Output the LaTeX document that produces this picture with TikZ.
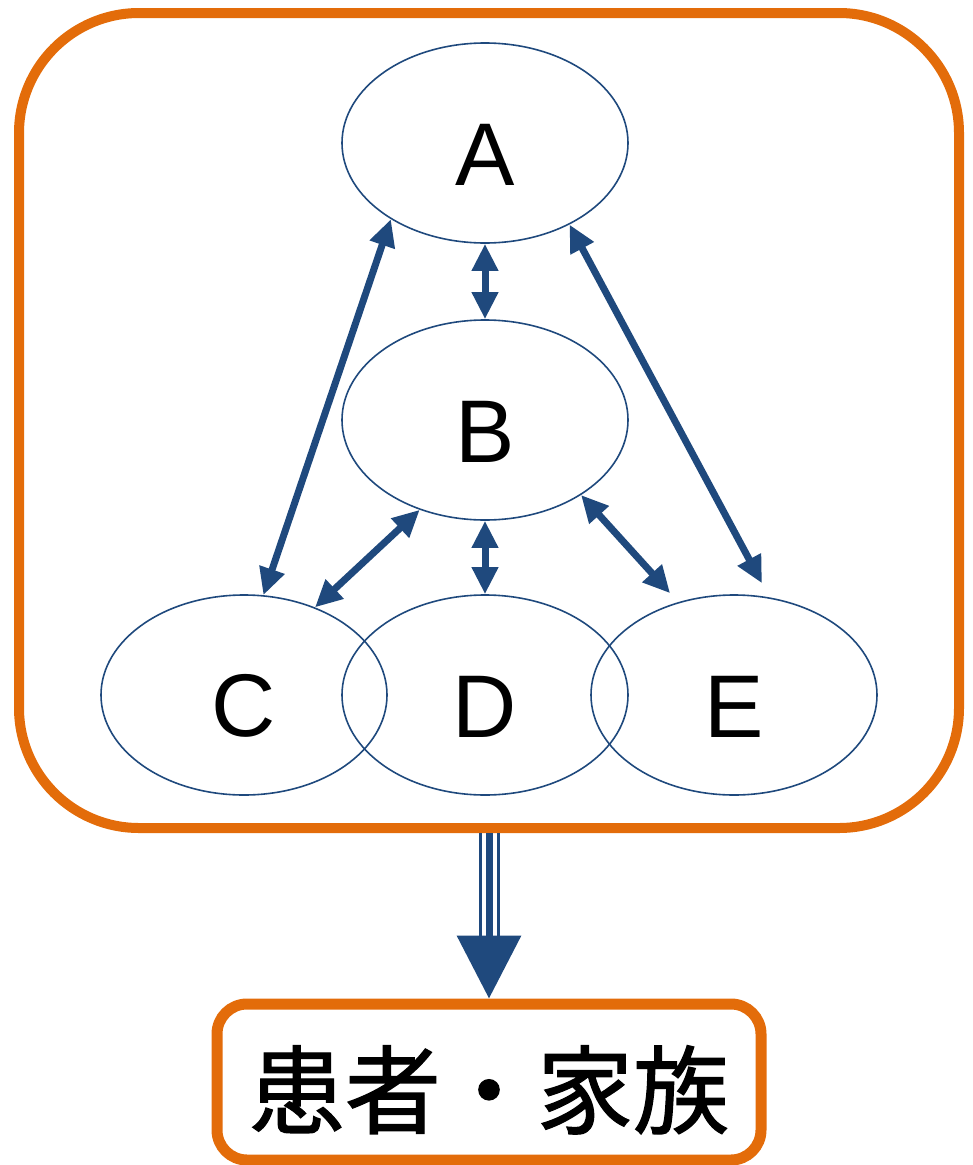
\documentclass[tikz,border=0pt]{standalone}
\usepackage{fontspec}
\setmainfont{Liberation Sans}
\newfontfamily\cjk[FakeBold=1.3]{Noto Sans CJK JP}
\usetikzlibrary{arrows.meta,shapes.geometric}
\definecolor{frameorange}{RGB}{227,108,10}
\definecolor{linkblue}{RGB}{31,73,125}

\begin{document}
\begin{tikzpicture}[x=1pt,y=-1pt,
  member/.style={ellipse,draw=linkblue,line width=1.6pt,minimum width=286pt,minimum height=200pt,
    inner sep=0pt,text height=84pt,font=\fontsize{89}{100}\selectfont},
  link/.style={draw=linkblue,line width=7pt,
    {Triangle[length=27pt,width=25pt]}-{Triangle[length=27pt,width=25pt]}}]
\path[use as bounding box] (0,0) rectangle (973,1165);

% care team frame
\node[draw=frameorange,line width=10pt,rounded corners=120pt,
  minimum width=940pt,minimum height=815pt] (team) at (489,420.5) {};

% members
\node[member] (A) at (485,143) {A};
\node[member] (B) at (485,420) {B};
\foreach \name/\x in {C/244,D/485,E/734}{
  \node[member] (\name) at (\x,695) {\name};
}

% links between members
\draw[link] (A.south) -- (B.north);
\draw[link] (B.south) -- (D.north);
\draw[link] (A.219) -- (C.79);
\draw[link,shorten >=16pt] (A.316) -- (E.70);
\draw[link] (B.234) -- (C.51);
\draw[link,shorten >=12pt] (B.322) -- (E.121);

% patient and family
\node[draw=frameorange,line width=11pt,rounded corners=30pt,inner sep=0pt,
  minimum width=544pt,minimum height=156pt,text height=100pt,text depth=11.5pt,
  font=\cjk\fontsize{96}{100}\selectfont]
  (family) at (489,1082) {患者・家族};

% triple arrow down to the family
\foreach \dx in {-9,9}{
  \draw[linkblue,line width=3pt,shorten >=63pt]
    ([xshift=\dx pt]team.south) -- ([xshift=\dx pt]family.north);
}
\draw[linkblue,line width=7pt,-{Triangle[length=63pt,width=63pt]}]
  (team.south) -- (family.north);
\end{tikzpicture}
\end{document}
